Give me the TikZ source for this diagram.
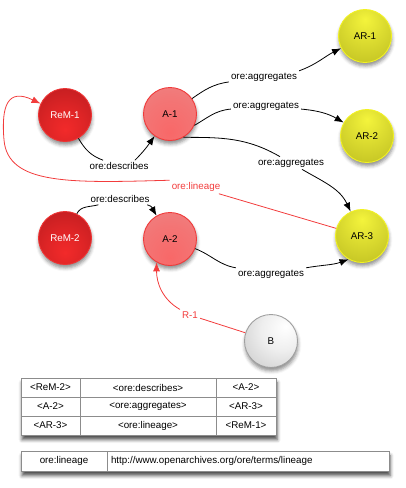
\documentclass[tikz,border=0pt]{standalone}
\usepackage{fontspec}
\setmainfont{Liberation Sans}
\usetikzlibrary{positioning,arrows.meta,shadows.blur}

\definecolor{remlo}{HTML}{A3151A}
\definecolor{remhi}{HTML}{F22A2A}
\definecolor{remedge}{HTML}{EE3434}
\definecolor{alo}{HTML}{E89292}
\definecolor{ahi}{HTML}{F86868}
\definecolor{aedge}{HTML}{F03A3A}
\definecolor{arlo}{HTML}{A4A414}
\definecolor{arhi}{HTML}{F4F43C}
\definecolor{aredge}{HTML}{F2F222}
\definecolor{blo}{HTML}{ABABAB}
\definecolor{bedge}{HTML}{A0A0A0}
\definecolor{linred}{HTML}{F23C3C}
\definecolor{cellgray}{HTML}{8C8C8C}

\pgfdeclareradialshading{remshade}{\pgfpoint{0bp}{-14bp}}{color(0bp)=(remhi); color(18bp)=(remhi!75!remlo); color(58bp)=(remlo); color(80bp)=(remlo)}
\pgfdeclareradialshading{ashade}{\pgfpoint{0bp}{-18bp}}{color(0bp)=(ahi); color(25bp)=(ahi!70!alo); color(65bp)=(alo); color(80bp)=(alo)}
\pgfdeclareradialshading{arshade}{\pgfpoint{0bp}{16bp}}{color(0bp)=(arhi); color(18bp)=(arhi!70!arlo); color(62bp)=(arlo); color(80bp)=(arlo)}
\pgfdeclareradialshading{bshade}{\pgfpoint{14bp}{14bp}}{color(0bp)=(white); color(20bp)=(white!80!blo); color(66bp)=(blo); color(85bp)=(blo)}

\newcommand\diafont{\fontsize{9.8}{11.5}\selectfont}

\tikzset{
  ball/.style={circle, minimum size=53pt, inner sep=0pt, line width=0.9pt, shade, font=\diafont,
    blur shadow={shadow xshift=0.5pt, shadow yshift=-3.5pt, shadow blur radius=3.5pt, shadow opacity=45}},
  remnode/.style={ball, draw=remedge, shading=remshade, text=white},
  anode/.style={ball, draw=aedge, shading=ashade},
  arnode/.style={ball, draw=aredge, shading=arshade},
  bnode/.style={ball, draw=bedge, shading=bshade},
  elabel/.style={font=\diafont, inner sep=2pt},
  link/.style={line width=0.8pt},
  linlink/.style={line width=0.8pt, draw=linred},
  tabframe/.style={fill=white, inner sep=0pt,
    blur shadow={shadow xshift=1pt, shadow yshift=-4.5pt, shadow blur radius=3.5pt, shadow opacity=70}},
  cell/.style={draw=cellgray, line width=0.8pt, fill=white, minimum height=19pt, inner sep=0pt, outer sep=0pt, font=\diafont},
}

\begin{document}
\begin{tikzpicture}[x=1pt, y=1pt, >={Latex[length=9pt,width=7pt]}]
	\useasboundingbox (0,0) rectangle (406,-488);
	
	% resources
	\node[remnode] (rem1) at (65,-115) {ReM-1};
	\node[anode] (a1) at (170,-114) {A-1};
	\node[arnode] (ar1) at (365,-36) {AR-1};
	\node[arnode] (ar2) at (367,-136) {AR-2};
	\node[arnode] (ar3) at (362,-236) {AR-3};
	\node[remnode] (rem2) at (65,-238) {ReM-2};
	\node[anode] (a2) at (170,-239) {A-2};
	\node[bnode] (b) at (271,-341) {B};
	
	% edge labels
	\node[elabel] (desc1) at (119,-166) {ore:describes};
	\node[elabel] (agg1) at (264,-77) {ore:aggregates};
	\node[elabel] (agg2) at (266,-106) {ore:aggregates};
	\node[elabel] (agg3) at (291,-163) {ore:aggregates};
	\node[elabel, text=linred] (lin) at (196,-187) {ore:lineage};
	\node[elabel] (desc2) at (120,-199) {ore:describes};
	\node[elabel] (agg4) at (271,-274) {ore:aggregates};
	\node[elabel, text=linred] (r1) at (190,-315) {R-1};
	
	\draw[link] (rem1) to[out=-60,in=160] (desc1);
	\draw[link,->] (desc1.20) to[out=45,in=-125] (a1);
	\draw[link] (a1) to[out=35,in=188] (agg1);
	\draw[link,->] (agg1.10) to[out=20,in=207] (ar1);
	\draw[link] (a1.-25) to[out=30,in=185] (agg2);
	\draw[link,->] (agg2) to[out=-5,in=150] (ar2);
	\draw[link] (a1.-60) to[out=0,in=150] (agg3);
	\draw[link,->] (agg3.-30) to[out=-30,in=115] (ar3);
	\draw[link] (rem2) to[out=64,in=195] (desc2);
	\draw[link,->] (desc2.-12) to[out=-10,in=120] (a2);
	\draw[link] (a2) to[out=-21,in=170] (agg4);
	\draw[link,->] (agg4) to[out=10,in=200] (ar3.240);
	
	\draw[linlink] (ar3) -- (lin);
	\draw[linlink,->] (lin.north west) .. controls (70,-183) and (8,-185) .. (4,-140)
		.. controls (1,-105) and (8,-88) .. (rem1.155);
	\draw[linlink] (b) -- (r1);
	\draw[linlink,->] (r1.north west) to[out=150,in=-90] (a2.240);
	
	% statements
	\node[tabframe, minimum width=255pt, minimum height=57pt, anchor=north west] (tab1) at (21,-378) {};
	\node[cell, minimum width=59pt, anchor=north west] (t11) at (tab1.north west) {<ReM-2>};
	\node[cell, minimum width=136pt, right=0pt of t11] (t12) {<ore:describes>};
	\node[cell, minimum width=60pt, right=0pt of t12] (t13) {<A-2>};
	\node[cell, minimum width=59pt, below=0pt of t11] (t21) {<A-2>};
	\node[cell, minimum width=136pt, right=0pt of t21] (t22) {<ore:aggregates>};
	\node[cell, minimum width=60pt, right=0pt of t22] (t23) {<AR-3>};
	\node[cell, minimum width=59pt, below=0pt of t21] (t31) {<AR-3>};
	\node[cell, minimum width=136pt, right=0pt of t31] (t32) {<ore:lineage>};
	\node[cell, minimum width=60pt, right=0pt of t32] (t33) {<ReM-1>};
	
	% namespace
	\node[tabframe, minimum width=368pt, minimum height=20pt, anchor=north west] (tab2) at (21,-451) {};
	\node[cell, minimum width=86pt, minimum height=20pt, anchor=north west] (u1) at (tab2.north west) {ore:lineage};
	\node[cell, minimum height=20pt, text width=274pt, inner xsep=4pt, align=left, right=0pt of u1] (u2) {http://www.openarchives.org/ore/terms/lineage};
\end{tikzpicture}
\end{document}
